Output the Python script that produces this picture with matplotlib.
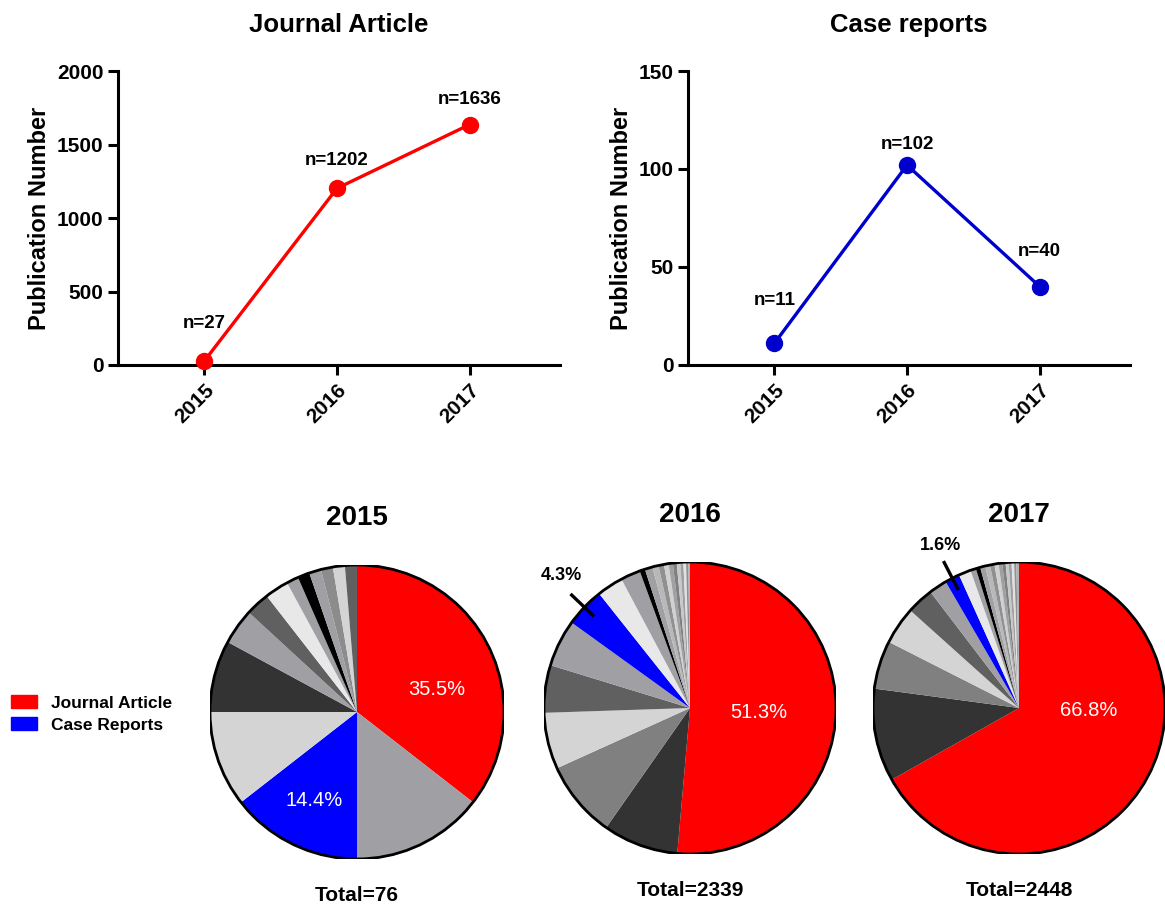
import math
import numpy as np
import matplotlib
matplotlib.use('Agg')
import matplotlib.pyplot as plt
from matplotlib.patches import Circle, Patch

plt.rcParams['font.family'] = ['Liberation Sans', 'DejaVu Sans']
plt.rcParams['font.weight'] = 'bold'

# Yearly publication counts
years = [2015, 2016, 2017]
journal_counts = [27, 1202, 1636]
case_counts = [11, 102, 40]

# Publication types per year (first slice = journal articles)
pie_2015 = [27, 11, 11, 8, 6, 3, 2, 2, 1, 1, 1, 1, 1, 1]
pie_2015_colors = ['#ff0000', '#a0a0a4', '#0000ff', '#d4d4d4', '#333333', '#a0a0a4',
                   '#606060', '#e8e8e8', '#a0a0a4', '#000000', '#a0a0a4', '#8c8c8c',
                   '#d4d4d4', '#606060']
pie_2016 = [1202, 195, 199, 146, 123, 122, 102, 68, 51,
            14, 20, 16, 14, 12, 11, 10, 9, 8, 7, 6, 4]
pie_2016_colors = ['#ff0000', '#333333', '#808080', '#d4d4d4', '#606060', '#a0a0a4',
                   '#0000ff', '#e8e8e8', '#a0a0a4',
                   '#000000', '#a0a0a4', '#b8b8b8', '#909090', '#d0d0d0', '#a0a0a4',
                   '#808080', '#c8c8c8', '#a0a0a4', '#e0e0e0', '#909090', '#b0b0b0']
pie_2017 = [1636, 252, 131, 102, 73, 49, 40, 33,
            15, 12, 14, 13, 12, 11, 10, 9, 8, 8, 7, 6, 7]
pie_2017_colors = ['#ff0000', '#333333', '#808080', '#d4d4d4', '#606060', '#a0a0a4',
                   '#0000ff', '#e8e8e8',
                   '#a0a0a4', '#000000', '#a0a0a4', '#b8b8b8', '#909090', '#d0d0d0',
                   '#a0a0a4', '#808080', '#c8c8c8', '#a0a0a4', '#e0e0e0', '#909090',
                   '#b0b0b0']

W, H = 1165, 909
fig = plt.figure(figsize=(W / 100, H / 100), dpi=100)


def px_axes(x0, y0, x1, y1):
    # axes from pixel box (top-left origin)
    return fig.add_axes([x0 / W, 1 - y1 / H, (x1 - x0) / W, (y1 - y0) / H])


def line_panel(ax, values, color, ymax, step, title, offsets):
    ax.plot(years, values, color=color, lw=2.4, marker='o', ms=11.5, clip_on=False, zorder=3)
    for x, y, off in zip(years, values, offsets):
        ax.annotate(f'n={y}', (x, y), xytext=(0, off), textcoords='offset pixels',
                    ha='center', va='center', fontsize=13.5, fontweight='bold')
    ax.set_xlim(2014.35, 2017.68)
    ax.set_ylim(0, ymax)
    ax.set_yticks(np.arange(0, ymax + 1, step))
    ax.set_xticks(years)
    ax.set_xticklabels([str(y) for y in years], rotation=45, ha='right', va='top',
                       rotation_mode='anchor')
    for s in ['top', 'right']:
        ax.spines[s].set_visible(False)
    for s in ['left', 'bottom']:
        ax.spines[s].set_linewidth(2.2)
    ax.tick_params(width=2.2, length=7, labelsize=15)
    ax.tick_params(axis='x', pad=4)
    ax.set_ylabel('Publication Number', fontsize=17, fontweight='bold', labelpad=4)
    ax.set_title(title, fontsize=18.5, fontweight='bold', pad=28)
    for lab in ax.get_xticklabels() + ax.get_yticklabels():
        lab.set_fontweight('bold')


ax1 = px_axes(118, 71, 560, 365)
line_panel(ax1, journal_counts, '#ff0000', 2000, 500, 'Journal Article', [38, 28, 25])
ax2 = px_axes(688, 71, 1130, 365)
line_panel(ax2, case_counts, '#0000cc', 150, 50, 'Case reports', [43, 21, 35])


def trunc_pct(v, total):
    return f'{math.floor(v / total * 1000) / 10:.1f}%'


def pie_panel(cx, cy, r, counts, colors, title, inner, outer):
    ax = px_axes(cx - r, cy - r, cx + r, cy + r)
    wedges, _ = ax.pie(counts, colors=colors, startangle=90, counterclock=False,
                       radius=1, wedgeprops=dict(linewidth=0))
    ax.add_patch(Circle((0, 0), 1, fill=False, ec='black', lw=2))
    ax.set_xlim(-1, 1)
    ax.set_ylim(-1, 1)
    ax.set_aspect('auto')
    ax.axis('off')
    total = sum(counts)
    for idx, (tx, ty) in inner:
        ax.text(tx, ty, trunc_pct(counts[idx], total), color='white', fontsize=14.5,
                fontweight='normal', ha='center', va='center')
    for idx, (tx, ty) in outer:
        w = wedges[idx]
        mid = math.radians((w.theta1 + w.theta2) / 2)
        ax.plot([0.92 * math.cos(mid), 1.12 * math.cos(mid)],
                [0.92 * math.sin(mid), 1.12 * math.sin(mid)], color='black', lw=2.4,
                clip_on=False)
        ax.text(tx, ty, trunc_pct(counts[idx], total), color='black', fontsize=13,
                fontweight='bold', ha='center', va='center')
    ax.text(0, 1.32, title, fontsize=20, fontweight='bold', ha='center', va='center')
    ax.text(0, -1.25, f'Total={total}', fontsize=15, fontweight='bold', ha='center',
            va='center')
    return ax


pie_panel(357, 712, 147, pie_2015, pie_2015_colors, '2015',
          [(0, (0.54, 0.15)), (2, (-0.29, -0.6))], [])
pie_panel(690, 708, 146, pie_2016, pie_2016_colors, '2016',
          [(0, (0.47, -0.03))], [(6, (-0.88, 0.91))])
pie_panel(1019, 708, 146, pie_2017, pie_2017_colors, '2017',
          [(0, (0.48, -0.02))], [(6, (-0.54, 1.11))])

# Legend for the two highlighted publication types
fig.legend(handles=[Patch(color='#ff0000', label='Journal Article'),
                    Patch(color='#0000ff', label='Case Reports')],
           loc='center left', bbox_to_anchor=(-0.004, 1 - 714 / H), frameon=False,
           prop=dict(size=12.5, weight='bold'), handlelength=1.5, handleheight=0.7,
           handletextpad=0.8, labelspacing=0.4)

fig.savefig('out.png', dpi=100)
